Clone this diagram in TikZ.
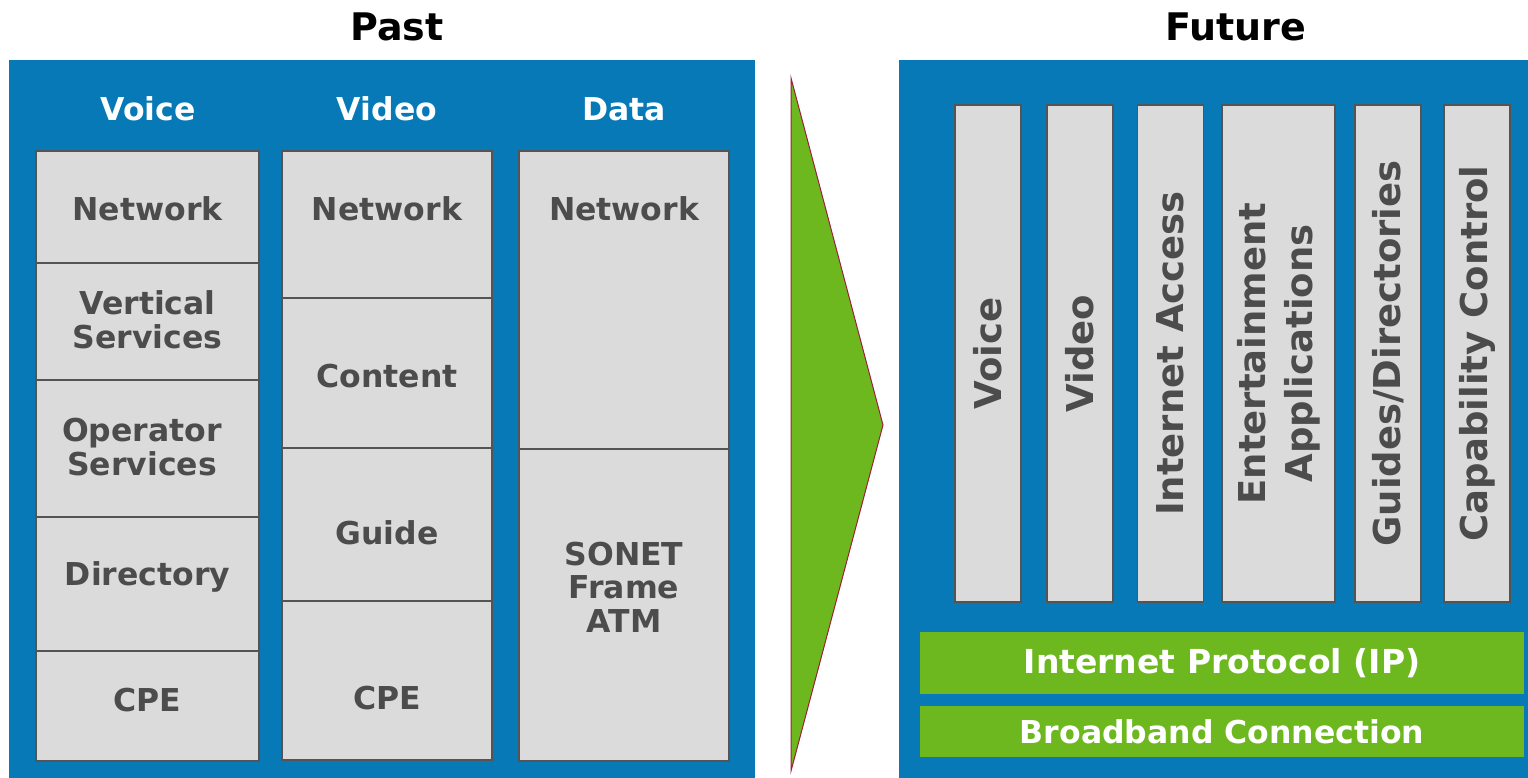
\documentclass[tikz,border=0pt]{standalone}
\usepackage{fontspec}
\setmainfont{DejaVu Sans}
\usetikzlibrary{positioning}
\definecolor{panel blue}{HTML}{0779B7}
\definecolor{band green}{HTML}{6DB81F}
\definecolor{arrow edge}{HTML}{9E1F3A}
\colorlet{cell edge}{black!67}
\colorlet{cell area}{black!14}
\colorlet{cell text}{black!70}
\def\bigfont{\bfseries\fontsize{31.5}{33.5}\selectfont}
\def\pillarfont{\bfseries\fontsize{37}{47}\selectfont}
\tikzset{panel/.style={fill=panel blue},
    cell/.style={fill=cell area, draw=cell edge, line width=1.5pt},
    divider/.style={draw=cell edge, line width=1.5pt},
    celltext/.style={text=cell text, font=\bigfont, align=center, inner sep=0pt},
    head/.style={text=white, font=\bigfont, inner sep=0pt},
    title/.style={text=black, font=\bfseries\fontsize{38}{40}\selectfont, inner sep=0pt},
    pillar/.style={cell, rotate=90, minimum width=497pt, minimum height=66pt,
        text=cell text, font=\pillarfont, align=center, inner sep=0pt},
    band/.style={fill=band green, text=white, font=\bigfont, inner sep=0pt,
        minimum width=604pt}}

\begin{document}
\begin{tikzpicture}[x=1pt, y=-1pt]
    \useasboundingbox (0,0) rectangle (1528,778);
    % titles
    \node[title] (past) at (397,27) {Past};
    \node[title] (future) at (1236,27) {Future};
    % past panel
    \fill[panel] (9,60) rectangle (755,778);
    \node[head, anchor=base] (voice head) at (148,121) {Voice};
    \node[head, anchor=base] (video head) at (387,121) {Video};
    \node[head, anchor=base] (data head) at (624,121) {Data};
    \draw[cell] (36,151) rectangle (259,761);
    \foreach \y in {263,380,517,651}
        \draw[divider] (36,\y) -- (259,\y);
    \draw[cell] (282,151) rectangle (492,760);
    \foreach \y in {298,448,601}
        \draw[divider] (282,\y) -- (492,\y);
    \draw[cell] (519,151) rectangle (729,761);
    \draw[divider] (519,449) -- (729,449);
    \node[celltext, anchor=base] (voice net) at (147.5,220) {Network};
    \node[celltext, anchor=base] (vertical) at (147.5,348) {Vertical\\Services};
    \node[celltext, anchor=base] (operator) at (142,475) {Operator\\Services};
    \node[celltext, anchor=base] (directory) at (147.5,585) {Directory};
    \node[celltext, anchor=base] (voice cpe) at (147.5,711) {CPE};
    \node[celltext, anchor=base] (video net) at (387,220) {Network};
    \node[celltext, anchor=base] (content) at (387,387) {Content};
    \node[celltext, anchor=base] (guide) at (387,544) {Guide};
    \node[celltext, anchor=base] (video cpe) at (387,709) {CPE};
    \node[celltext, anchor=base] (data net) at (624,220) {Network};
    \node[celltext, anchor=base] (sonet) at (624,632) {SONET\\Frame\\ATM};
    % arrow
    \filldraw[fill=band green, draw=arrow edge, line width=1pt]
        (791,78) -- (883,425) -- (791,771) -- cycle;
    % future panel
    \fill[panel] (899,60) rectangle (1528,778);
    \node[pillar] (p voice) at (988,353.5) {Voice};
    \node[pillar] (p video) at (1080,353.5) {Video};
    \node[pillar] (p internet) at (1170.5,353.5) {Internet Access};
    \node[pillar, minimum height=113pt] (p entertain) at (1278.5,353.5)
        {Entertainment\\Applications};
    \node[pillar] (p guides) at (1388,353.5) {Guides/Directories};
    \node[pillar] (p capability) at (1477,353.5) {Capability Control};
    \node[band, minimum height=62pt, font=\bfseries\fontsize{33}{35}\selectfont]
        (ip) at (1222,663) {Internet Protocol (IP)};
    \node[band, minimum height=51pt] (broadband) at (1222,731.5) {Broadband Connection};
\end{tikzpicture}
\end{document}
